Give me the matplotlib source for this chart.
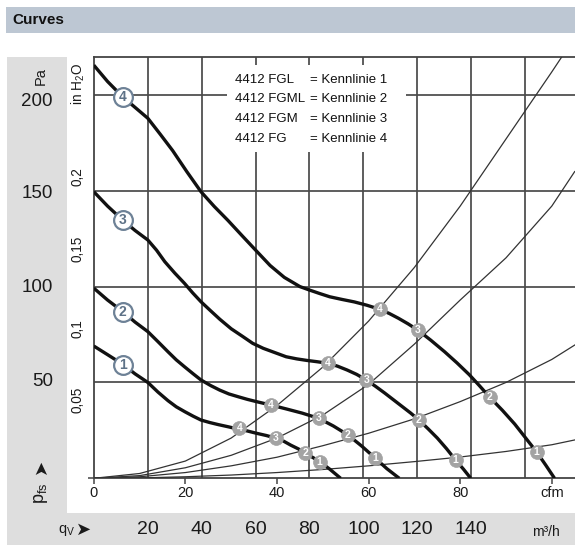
import matplotlib
matplotlib.use("Agg")
import matplotlib.pyplot as plt
from matplotlib.patches import Rectangle

# ---------------- data (cfm, Pa) ----------------
c1_q = [0, 3, 6.3, 9, 11.8, 14, 16.2, 18, 19.9, 21.7, 23.4, 25.3, 27.2, 29.5, 31.6, 33.5, 35.5,
        37.7, 39.8, 41.5, 43, 44.7, 46.2, 47.8, 49.3, 51.5, 53.9]
c1_p = [69, 64.5, 59.5, 54.5, 50, 45, 40.5, 37.3, 34.7, 32.4, 30.4, 29.1, 28.0, 26.8, 25.6, 24.7, 23.5,
        22.3, 20.9, 19.3, 17.3, 15.3, 13.0, 10.9, 8.7, 4.8, 0]

c2_q = [0, 3, 6.3, 9, 11.8, 14, 16.2, 18, 19.9, 21.7, 23.4, 25.5, 27.5, 29.5, 31.6, 33.5, 35.5,
        38.7, 42, 45.5, 49.1, 52.3, 55.5, 58.5, 61.5, 64, 66.7]
c2_p = [99.2, 93, 87, 81.5, 76.5, 71.3, 66, 61.8, 58, 54.5, 51.3, 48.4, 46, 44, 42.5, 41.2, 40,
        38.2, 36.2, 34, 31.3, 27.3, 22.6, 16.8, 10.4, 5, 0]

c3_q = [0, 3, 6.3, 9, 11.8, 13.7, 15.5, 17.7, 19.8, 21.6, 23.4, 25.5, 27.5, 30, 32.5, 34.7, 37,
        39.5, 42, 44.3, 46.5, 48.8, 51.1, 53.2, 55.3, 57.4, 59.5, 61.5, 63.5, 65.4, 67.3, 69.2,
        71, 73, 75, 77, 79, 80.7, 82.3]
c3_p = [149.5, 142, 134.7, 129.3, 124.3, 119, 113, 107, 101.7, 96.7, 92.1, 87.4, 83, 78, 74, 70.4, 67.8,
        65.6, 63.4, 62.3, 61.5, 60.8, 60, 58.5, 56.5, 54.2, 51.3, 48, 44.5, 41, 37.5, 34,
        30.4, 25.8, 21, 15.5, 9.5, 4.8, 0]

c4_q = [0, 3, 6.3, 9, 11.8, 14.5, 17.2, 20.3, 23.4, 26.3, 29.3, 32.4, 35.5, 38.5, 41.6, 45, 47.1,
        49.3, 51.5, 54.2, 56.9, 59.6, 62.4, 64.5, 66.5, 68.6, 70.7, 73.6, 76.6, 79.3, 82, 84.2,
        86.4, 89.2, 91.9, 94.3, 96.7, 98.7, 100.6]
c4_p = [215.5, 207, 199, 193.5, 187.8, 179.5, 171, 160, 149.5, 141.8, 134.5, 126.5, 118.6, 111, 104.8, 100, 98.2,
        96.4, 94.7, 93.3, 92, 90.3, 88.2, 86, 83.5, 80.6, 77.4, 72, 66, 60.2, 54, 48.3,
        42.4, 35.5, 28.3, 21, 13.7, 6.8, 0]

fan_q = [c1_q, c2_q, c3_q, c4_q]
fan_p = [c1_p, c2_p, c3_p, c4_p]
fan_labels = ["1", "2", "3", "4"]
label_q = [6.3, 6.3, 6.3, 6.3]
label_p = [59.1, 86.9, 134.7, 199]

# system (resistance) curves
sys_q = [0, 10, 20, 30, 40, 50, 60, 70, 80, 90, 100, 105]
sys1_p = [0, 0.2, 0.8, 1.7, 3.0, 4.6, 6.5, 8.7, 11.1, 14.0, 17.5, 20.0]
sys2_p = [0, 0.8, 3.0, 6.5, 11, 17, 23.5, 31, 40, 50, 62, 69.5]
sys3_p = [0, 1.4, 5.5, 12, 21, 33, 49, 70, 93, 115, 142, 160]
sys4_p = [0, 2.5, 9, 21, 38, 58, 82, 110, 142, 177, 212, 230]
sys_p = [sys1_p, sys2_p, sys3_p, sys4_p]

# operating point markers on each fan curve (labels = system curve number)
op_q = [[31.8, 39.8, 46.2, 49.3],
        [38.7, 49.1, 55.5, 61.5],
        [51.1, 59.5, 71.0, 79.0],
        [62.4, 70.7, 86.4, 96.7]]
op_p = [[26.1, 20.9, 13.0, 8.7],
        [38.2, 31.3, 22.6, 10.4],
        [60.0, 51.3, 30.4, 9.5],
        [88.2, 77.4, 42.6, 13.7]]
op_labels = ["4", "3", "2", "1"]

cfm_ticks = [0, 20, 40, 60, 80]
m3h_grid = [20, 40, 60, 80, 100, 120, 140, 160]
m3h_labels = [20, 40, 60, 80, 100, 120, 140]
pa_grid = [50, 100, 150, 200]
pa_label_ypx = [382, 288, 193, 101]
inh2o_labels = ["0,05", "0,1", "0,15", "0,2"]
inh2o_ypx = [400, 329, 249, 177]

legend_left = ["4412 FGL", "4412 FGML", "4412 FGM", "4412 FG"]
legend_right = ["= Kennlinie 1", "= Kennlinie 2", "= Kennlinie 3", "= Kennlinie 4"]

CFM_PER_M3H = 1 / 1.699

# ---------------- fonts ----------------
FN = "Liberation Sans"
plt.rcParams["font.family"] = [FN, "DejaVu Sans"]
plt.rcParams["mathtext.fontset"] = "custom"
plt.rcParams["mathtext.rm"] = FN
plt.rcParams["mathtext.it"] = FN
plt.rcParams["mathtext.bf"] = FN

W, H = 575, 545
fig = plt.figure(figsize=(W / 100, H / 100), dpi=100)
fig.patch.set_facecolor("white")


def fx(x):
    return x / W


def fy(y):
    return 1 - y / H


def T(x, y, s, **kw):
    return fig.text(fx(x), fy(y), s, **kw)


# background panels
fig.patches.append(Rectangle((fx(5.5), fy(32.5)), fx(575 - 5.5), (32.5 - 6.5) / H,
                             transform=fig.transFigure, facecolor="#bdc7d3", edgecolor="none", zorder=0))
fig.patches.append(Rectangle((fx(6.5), fy(545)), fx(66.5 - 6.5), (545 - 56.7) / H,
                             transform=fig.transFigure, facecolor="#dedede", edgecolor="none", zorder=0))
fig.patches.append(Rectangle((fx(6.5), fy(545)), fx(575 - 6.5), (545 - 513) / H,
                             transform=fig.transFigure, facecolor="#dedede", edgecolor="none", zorder=0))

T(12, 20, "Curves", fontsize=11, fontweight="bold", va="center", ha="left", color="#111111")

# axes
x0px, x1px, y0px, y1px = 93.8, 575, 478.3, 56.7
ax = fig.add_axes([fx(x0px), fy(y0px), (x1px - x0px) / W, (y0px - y1px) / H])
ax.set_xlim(0, (x1px - x0px) / 4.58)
ax.set_ylim(0, (y0px - y1px) / 1.917)
ax.set_facecolor("white")
ax.spines["right"].set_visible(False)
for s in ["left", "top", "bottom"]:
    ax.spines[s].set_color("#444444")
    ax.spines[s].set_linewidth(1.3)
ax.set_yticks([0])
ax.set_yticklabels([])
ax.set_xticks([0, 20, 40, 60, 80, 100])
ax.set_xticklabels([])
ax.tick_params(axis="both", direction="out", length=4, width=1.1, color="#444444")

GC = "#4a4a4a"
for m in m3h_grid:
    ax.axvline(m * CFM_PER_M3H, color=GC, lw=1.25, zorder=1)
for p in pa_grid:
    ax.axhline(p, color=GC, lw=1.25, zorder=1)

# legend box (white, covers grid)
lx0, lx1, ly0, ly1 = 227, 406, 65, 152
ax.add_patch(Rectangle(((lx0 - x0px) / 4.58, (y0px - ly1) / 1.917),
                       (lx1 - lx0) / 4.58, (ly1 - ly0) / 1.917,
                       facecolor="white", edgecolor="none", zorder=2))
for i, (a, b) in enumerate(zip(legend_left, legend_right)):
    yy = [80, 99.5, 119, 138.5][i]
    T(235, yy, a, fontsize=9.5, va="center", ha="left", color="#111111", zorder=5)
    T(310, yy, b, fontsize=9.5, va="center", ha="left", color="#111111", zorder=5)

# system curves
for sp in sys_p:
    ax.plot(sys_q, sp, color="#333333", lw=0.9, zorder=3)

# fan curves
for q, p in zip(fan_q, fan_p):
    ax.plot(q, p, color="#111111", lw=2.4, zorder=4, solid_capstyle="butt", solid_joinstyle="round")

# white label circles
for q, p, lab in zip(label_q, label_p, fan_labels):
    ax.plot([q], [p], marker="o", ms=13.5, mfc="white", mec="#6d8196", mew=1.6, zorder=6)
    ax.text(q, p, lab, ha="center", va="center", fontsize=10, fontweight="bold",
            color="#5e7287", zorder=7)

# grey operating point markers
for qs, ps in zip(op_q, op_p):
    for q, p, lab in zip(qs, ps, op_labels):
        ax.plot([q], [p], marker="o", ms=10, mfc="#a3a3a3", mec="#a3a3a3", mew=0.5, zorder=6)
        ax.text(q, p, lab, ha="center", va="center", fontsize=7.5, fontweight="bold",
                color="white", zorder=7)

# ---------------- outside labels ----------------
TC = "#1a1a1a"
T(41, 76, "Pa", rotation=90, fontsize=10.5, va="center", ha="center", color=TC)
for p, yp in zip(pa_grid, pa_label_ypx):
    T(53, yp, str(p), fontsize=13.5, va="center", ha="right", color=TC)
T(78, 84, "in H$_\\mathrm{2}$O", rotation=90, fontsize=9.8, va="center", ha="center", color=TC)
for lab, yp in zip(inh2o_labels, inh2o_ypx):
    T(78, yp, lab, rotation=90, fontsize=9.8, va="center", ha="center", color=TC)
T(41, 466, "\u27a4", rotation=90, fontsize=13, va="center", ha="center", color=TC,
  family=["DejaVu Sans"])
T(41, 493, "p$_\\mathrm{fs}$", rotation=90, fontsize=13, va="center", ha="center", color=TC)

for c in cfm_ticks:
    T(x0px + c * 4.58, 493, str(c), fontsize=10.5, va="center", ha="center", color=TC)
T(x0px + 100 * 4.58, 493, "cfm", fontsize=10.5, va="center", ha="center", color=TC)

T(67, 530, "q$_\\mathrm{V}$", fontsize=10.5, va="center", ha="center", color=TC)
T(84, 530, "\u27a4", fontsize=13, va="center", ha="center", color=TC, family=["DejaVu Sans"])
for m in m3h_labels:
    T(x0px + m * CFM_PER_M3H * 4.58, 530, str(m), fontsize=14, va="center", ha="center", color=TC)
T(546, 532, "m³/h", fontsize=10, va="center", ha="center", color=TC)

fig.savefig("out.png", dpi=100, facecolor="white")
